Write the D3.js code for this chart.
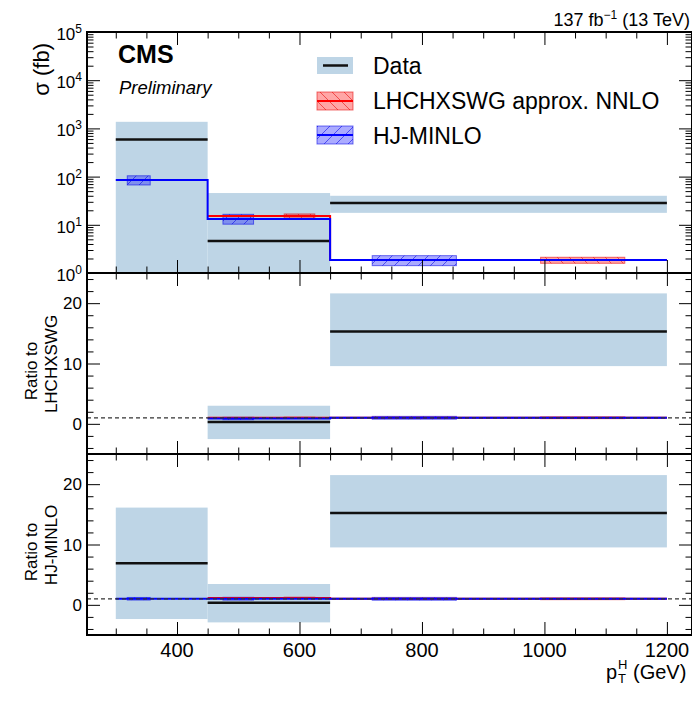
<!DOCTYPE html>
<html>
<head>
<meta charset="utf-8">
<script src="https://cdn.jsdelivr.net/npm/d3@7"></script>
<style>
  body { margin: 0; background: #fff; }
  svg { display: block; }
  text { font-family: "Liberation Sans", Arial, Helvetica, sans-serif; fill: #000; }
</style>
</head>
<body>
<div class="canvas"></div>
<script>
// bins in pT^H (GeV)
const binEdges = [300, 450, 650, 1200];

// measured cross sections (fb) with uncertainties
const dataXsec = [585, 4.6, 28.3];
const dataErrUp = [785, 41, 11.7];
const dataErrDown = [785, 43, 10.6];

// LHCHXSWG approx. NNLO (no prediction in first bin)
const lhcXsec = [null, 15.2, 1.85];
const lhcErrUp = [null, 1.6, 0.27];
const lhcErrDown = [null, 1.6, 0.26];

// HJ-MINLO
const hjXsec = [85, 13.2, 1.86];
const hjErrUp = [19, 3.3, 0.43];
const hjErrDown = [18, 2.9, 0.44];

// tick labels
const xTickLabels = [400, 600, 800, 1000, 1200];
const logTickExponents = [0, 1, 2, 3, 4, 5];
const ratioTickLabels = [0, 10, 20];

const dims = {
    width: 692,
    height: 701,
    left: 87,
    right: 692,
    majorTick: 13,
    minorTick: 6.5
};

const colours = {
    dataBox: '#bed5e6',
    data: '#111',
    lhc: '#ff0000',
    lhcFill: 'rgba(255,0,0,0.35)',
    lhcHatch: 'rgba(230,0,0,0.55)',
    hj: '#0000ff',
    hjFill: 'rgba(0,0,255,0.33)',
    hjHatch: 'rgba(0,0,230,0.55)'
};

// where inside a bin each prediction's band is drawn (fraction of bin width)
const bandSpan = { hj: [0.125, 0.375], lhc: [0.625, 0.875] };

const bins = dataXsec.map((d, i) => ({
    lo: binEdges[i],
    hi: binEdges[i + 1],
    data: d, dUp: dataErrUp[i], dDn: dataErrDown[i],
    lhc: lhcXsec[i], lUp: lhcErrUp[i], lDn: lhcErrDown[i],
    hj: hjXsec[i], hUp: hjErrUp[i], hDn: hjErrDown[i]
}));

const svg = d3.select('.canvas')
    .append('svg')
    .attr('width', dims.width)
    .attr('height', dims.height);

svg.append('rect').attr('width', dims.width).attr('height', dims.height).attr('fill', '#fff');

const defs = svg.append('defs');

const hatch = (id, colour, dir) => {
    const p = defs.append('pattern')
        .attr('id', id)
        .attr('patternUnits', 'userSpaceOnUse')
        .attr('width', 12)
        .attr('height', 12);
    p.append('path')
        .attr('d', dir > 0
            ? 'M-3,15 L15,-3 M-3,3 L3,-3 M9,15 L15,9'
            : 'M-3,-3 L15,15 M-3,9 L3,15 M9,-3 L15,3')
        .attr('stroke', colour)
        .attr('stroke-width', 1)
        .attr('fill', 'none');
};
hatch('hatchLhc', colours.lhcHatch, -1);
hatch('hatchHj', colours.hjHatch, 1);

const x = d3.scaleLinear().domain([253, 1241]).range([dims.left, dims.right]);

const panels = [
    { top: 32, bottom: 273, log: true, ref: () => 1 },
    { top: 273, bottom: 454, log: false, ref: b => b.lhc },
    { top: 454, bottom: 635, log: false, ref: b => b.hj }
];
panels[0].y = d3.scaleLog().domain([1, 1e5]).range([273, 32]);
panels[1].y = d3.scaleLinear().domain([-5, 25]).range([454, 273]);
panels[2].y = d3.scaleLinear().domain([-5, 25]).range([635, 454]);

const lineGen = (y, isLog) => d3.line()
    .x(d => x(d.x))
    .y(d => y(isLog ? Math.max(d.v, 0.01) : d.v))
    .curve(d3.curveStepAfter);

const stepPoints = (key, ref) => {
    const pts = [];
    let last = null;
    bins.forEach(b => {
        const r = ref(b);
        if (b[key] == null || r == null) return;
        pts.push({ x: b.lo, v: b[key] / r });
        last = { x: b.hi, v: b[key] / r };
    });
    if (last) pts.push(last);
    return pts;
};

panels.forEach((p, pi) => {
    const y = p.y;
    const yv = v => y(p.log ? Math.max(v, 0.01) : v);

    defs.append('clipPath').attr('id', `clip${pi}`)
        .append('rect')
        .attr('x', dims.left).attr('y', p.top)
        .attr('width', dims.right - dims.left).attr('height', p.bottom - p.top);

    const g = svg.append('g').attr('clip-path', `url(#clip${pi})`);

    const withRef = bins.filter(b => p.ref(b) != null);

    // data uncertainty boxes
    g.selectAll('.dataBox').data(withRef).enter()
        .append('rect')
        .attr('class', 'dataBox')
        .attr('x', b => x(b.lo))
        .attr('width', b => x(b.hi) - x(b.lo))
        .attr('y', b => yv((b.data + b.dUp) / p.ref(b)))
        .attr('height', b => yv((b.data - b.dDn) / p.ref(b)) - yv((b.data + b.dUp) / p.ref(b)))
        .attr('fill', colours.dataBox);

    // data central values
    g.selectAll('.dataLine').data(withRef).enter()
        .append('line')
        .attr('class', 'dataLine')
        .attr('x1', b => x(b.lo))
        .attr('x2', b => x(b.hi))
        .attr('y1', b => yv(b.data / p.ref(b)))
        .attr('y2', b => yv(b.data / p.ref(b)))
        .attr('stroke', colours.data)
        .attr('stroke-width', 2.5);

    // prediction bands
    const bands = [
        { key: 'hj', up: 'hUp', dn: 'hDn', fill: colours.hjFill, pat: 'hatchHj', stroke: colours.hjHatch },
        { key: 'lhc', up: 'lUp', dn: 'lDn', fill: colours.lhcFill, pat: 'hatchLhc', stroke: colours.lhcHatch }
    ];
    bands.forEach(s => {
        const sel = withRef.filter(b => b[s.key] != null);
        const span = bandSpan[s.key];
        const bx = b => x(b.lo + span[0] * (b.hi - b.lo));
        const bw = b => x(b.lo + span[1] * (b.hi - b.lo)) - bx(b);
        const top = b => yv((b[s.key] + b[s.up]) / p.ref(b));
        const bot = b => yv((b[s.key] - b[s.dn]) / p.ref(b));
        g.selectAll(`.band-${s.key}`).data(sel).enter()
            .append('rect')
            .attr('class', `band-${s.key}`)
            .attr('x', bx).attr('width', bw)
            .attr('y', top).attr('height', b => bot(b) - top(b))
            .attr('fill', s.fill)
            .attr('stroke', s.stroke)
            .attr('stroke-width', 1);
        g.selectAll(`.hatch-${s.key}`).data(sel).enter()
            .append('rect')
            .attr('class', `hatch-${s.key}`)
            .attr('x', bx).attr('width', bw)
            .attr('y', top).attr('height', b => bot(b) - top(b))
            .attr('fill', `url(#${s.pat})`);
    });

    // prediction step lines
    g.append('path')
        .datum(stepPoints('lhc', p.ref))
        .attr('d', lineGen(y, p.log))
        .attr('fill', 'none')
        .attr('stroke', colours.lhc)
        .attr('stroke-width', 2);

    g.append('path')
        .datum(stepPoints('hj', p.ref))
        .attr('d', lineGen(y, p.log))
        .attr('fill', 'none')
        .attr('stroke', colours.hj)
        .attr('stroke-width', 2);

    if (!p.log) {
        g.append('line')
            .attr('x1', dims.left).attr('x2', dims.right)
            .attr('y1', y(1)).attr('y2', y(1))
            .attr('stroke', '#333')
            .attr('stroke-width', 1.2)
            .attr('stroke-dasharray', '4,3');
    }

    // ticks on all four sides
    const xMinor = d3.range(300, 1241, 50).filter(v => v % 200 !== 0);
    let yMajor, yMinor;
    if (p.log) {
        yMajor = logTickExponents.map(e => Math.pow(10, e));
        yMinor = [];
        logTickExponents.slice(0, -1).forEach(e => {
            d3.range(2, 10).forEach(m => yMinor.push(m * Math.pow(10, e)));
        });
    } else {
        yMajor = ratioTickLabels;
        yMinor = d3.range(-4, 25, 2).filter(v => v % 10 !== 0);
    }

    const addTicks = (axis, scale, values, size, transform) => {
        svg.append('g')
            .attr('transform', transform)
            .call(axis(scale).tickValues(values).tickSize(size).tickFormat(''))
            .call(a => a.select('.domain').remove())
            .call(a => a.selectAll('line').attr('stroke', '#000').attr('stroke-width', 1));
    };

    addTicks(d3.axisTop, x, xTickLabels, dims.majorTick, `translate(0,${p.bottom})`);
    addTicks(d3.axisTop, x, xMinor, dims.minorTick, `translate(0,${p.bottom})`);
    addTicks(d3.axisBottom, x, xTickLabels, dims.majorTick, `translate(0,${p.top})`);
    addTicks(d3.axisBottom, x, xMinor, dims.minorTick, `translate(0,${p.top})`);
    addTicks(d3.axisRight, y, yMajor, dims.majorTick, `translate(${dims.left},0)`);
    addTicks(d3.axisRight, y, yMinor, dims.minorTick, `translate(${dims.left},0)`);
    addTicks(d3.axisLeft, y, yMajor, dims.majorTick, `translate(${dims.right},0)`);
    addTicks(d3.axisLeft, y, yMinor, dims.minorTick, `translate(${dims.right},0)`);

    // frame
    svg.append('rect')
        .attr('x', dims.left).attr('y', p.top)
        .attr('width', dims.right - dims.left).attr('height', p.bottom - p.top)
        .attr('fill', 'none')
        .attr('stroke', '#000')
        .attr('stroke-width', 2);

    // y tick labels
    if (p.log) {
        logTickExponents.forEach(e => {
            const t = svg.append('text')
                .attr('x', 82)
                .attr('y', y(Math.pow(10, e)) + 8)
                .attr('text-anchor', 'end')
                .style('font-size', '17px');
            t.append('tspan').text('10');
            t.append('tspan').attr('dy', -7).style('font-size', '12px').text(e);
        });
    } else {
        ratioTickLabels.forEach(v => {
            svg.append('text')
                .attr('x', 82)
                .attr('y', y(v))
                .attr('dy', '0.36em')
                .attr('text-anchor', 'end')
                .style('font-size', '17px')
                .text(v);
        });
    }
});

// x tick labels
xTickLabels.forEach(v => {
    svg.append('text')
        .attr('x', x(v))
        .attr('y', 657)
        .attr('text-anchor', 'middle')
        .style('font-size', '20px')
        .text(v);
});

// x title
const xTitle = svg.append('text').attr('y', 679).style('font-size', '20px');
xTitle.append('tspan').attr('x', 606).text('p');
xTitle.append('tspan').attr('x', 618).attr('dy', 4).style('font-size', '13px').text('T');
xTitle.append('tspan').attr('x', 618).attr('dy', -14).style('font-size', '13px').text('H');
xTitle.append('tspan').attr('x', 633).attr('dy', 10).text('(GeV)');

// y titles
svg.append('text')
    .attr('transform', 'rotate(-90)')
    .attr('x', -43)
    .attr('y', 49)
    .attr('text-anchor', 'end')
    .style('font-size', '22px')
    .text('σ (fb)');

const ratioTitles = [
    { line2: 'LHCHXSWG', c1: 371, c2: 364 },
    { line2: 'HJ-MINLO', c1: 552, c2: 545 }
];
ratioTitles.forEach(r => {
    svg.append('text')
        .attr('transform', 'rotate(-90)')
        .attr('x', -r.c1).attr('y', 37)
        .attr('text-anchor', 'middle')
        .style('font-size', '17px')
        .text('Ratio to');
    svg.append('text')
        .attr('transform', 'rotate(-90)')
        .attr('x', -r.c2).attr('y', 57)
        .attr('text-anchor', 'middle')
        .style('font-size', '17px')
        .text(r.line2);
});

// CMS labels
svg.append('text')
    .attr('x', 118).attr('y', 63)
    .style('font-size', '25px')
    .style('font-weight', 'bold')
    .text('CMS');

svg.append('text')
    .attr('x', 119).attr('y', 94)
    .style('font-size', '18.5px')
    .style('font-style', 'italic')
    .text('Preliminary');

const lumi = svg.append('text')
    .attr('x', 690).attr('y', 26)
    .attr('text-anchor', 'end')
    .style('font-size', '18px');
lumi.append('tspan').text('137 fb');
lumi.append('tspan').attr('dy', -7).style('font-size', '12px').text('−1');
lumi.append('tspan').attr('dy', 7).text(' (13 TeV)');

// legend
const legend = svg.append('g');
const legendRows = [
    { label: 'Data', y: 57, h: 17, base: 74 },
    { label: 'LHCHXSWG approx. NNLO', y: 92, h: 18, base: 109 },
    { label: 'HJ-MINLO', y: 126, h: 18, base: 143.5 }
];

legend.append('rect')
    .attr('x', 317).attr('y', legendRows[0].y)
    .attr('width', 36).attr('height', legendRows[0].h)
    .attr('fill', colours.dataBox);
legend.append('line')
    .attr('x1', 323).attr('x2', 348)
    .attr('y1', legendRows[0].y + legendRows[0].h / 2)
    .attr('y2', legendRows[0].y + legendRows[0].h / 2)
    .attr('stroke', colours.data)
    .attr('stroke-width', 2.5);

[
    { row: legendRows[1], fill: colours.lhcFill, pat: 'hatchLhc', stroke: colours.lhcHatch, line: colours.lhc },
    { row: legendRows[2], fill: colours.hjFill, pat: 'hatchHj', stroke: colours.hjHatch, line: colours.hj }
].forEach(s => {
    legend.append('rect')
        .attr('x', 317).attr('y', s.row.y)
        .attr('width', 36).attr('height', s.row.h)
        .attr('fill', s.fill)
        .attr('stroke', s.stroke);
    legend.append('rect')
        .attr('x', 317).attr('y', s.row.y)
        .attr('width', 36).attr('height', s.row.h)
        .attr('fill', `url(#${s.pat})`);
    legend.append('line')
        .attr('x1', 317).attr('x2', 353)
        .attr('y1', s.row.y + s.row.h / 2)
        .attr('y2', s.row.y + s.row.h / 2)
        .attr('stroke', s.line)
        .attr('stroke-width', 2);
});

legendRows.forEach(r => {
    legend.append('text')
        .attr('x', 373).attr('y', r.base)
        .style('font-size', '23px')
        .text(r.label);
});
</script>
</body>
</html>
